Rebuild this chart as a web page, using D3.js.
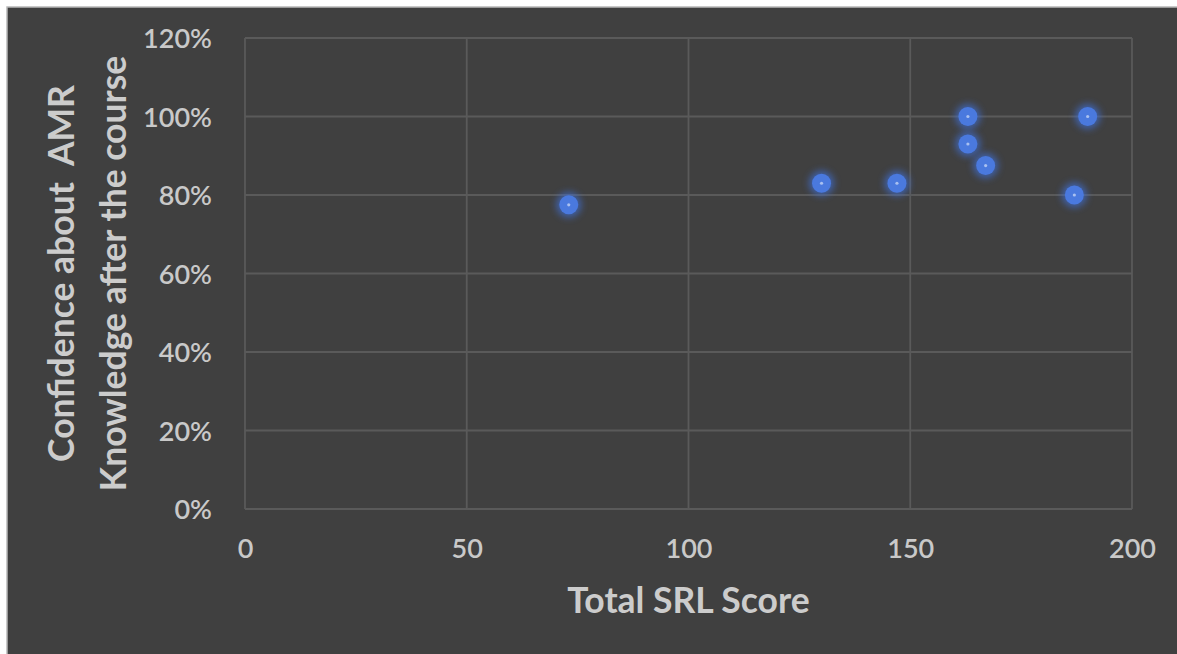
<!DOCTYPE html>
<html>
<head>
<meta charset="utf-8">
<script src="https://cdn.jsdelivr.net/npm/d3@7"></script>
<style>
  html, body { margin: 0; padding: 0; background: #ffffff; }
  svg { display: block; }
</style>
</head>
<body>
<svg id="chart" width="1177" height="654"></svg>
<script>
// Total SRL score vs. confidence about AMR knowledge after the course
const srlScore   = [73, 130, 147, 163, 163, 167, 187, 190];
const confidence = [0.775, 0.83, 0.83, 1.00, 0.93, 0.875, 0.80, 1.00];
const xTicks = [0, 50, 100, 150, 200];
const yTicks = [0, 0.2, 0.4, 0.6, 0.8, 1.0, 1.2];
const xTitle = "Total SRL Score";
const yTitleLines = ["Confidence about  AMR", "Knowledge after the course"];

const W = 1177, H = 654;
const plot = { left: 245, right: 1132, top: 38, bottom: 509 };
const font = "Lato, 'Open Sans', sans-serif";

const svg = d3.select("#chart");

const defs = svg.append("defs");
const glow = defs.append("filter").attr("id", "glow")
  .attr("x", "-100%").attr("y", "-100%").attr("width", "300%").attr("height", "300%");
glow.append("feGaussianBlur").attr("in", "SourceGraphic").attr("stdDeviation", 3.5);

// chart background (frame only visible on the top and left edges)
svg.append("rect").attr("x", 7).attr("y", 7).attr("width", W + 20).attr("height", H + 20)
  .attr("fill", "#404040").attr("stroke", "#b8b8b8").attr("stroke-width", 1.5);

const x = d3.scaleLinear().domain([0, 200]).range([plot.left, plot.right]);
const y = d3.scaleLinear().domain([0, 1.2]).range([plot.bottom, plot.top]);

// gridlines
const grid = svg.append("g").attr("stroke", "#5a5a5a").attr("stroke-width", 1.8);
grid.selectAll("line.h").data(yTicks).join("line")
  .attr("x1", plot.left).attr("x2", plot.right)
  .attr("y1", d => y(d)).attr("y2", d => y(d));
grid.selectAll("line.v").data(xTicks).join("line")
  .attr("y1", plot.top).attr("y2", plot.bottom)
  .attr("x1", d => x(d)).attr("x2", d => x(d));

// axes (labels only)
const xAxis = svg.append("g").attr("transform", `translate(0,${plot.bottom})`)
  .call(d3.axisBottom(x).tickValues(xTicks).tickSize(0).tickPadding(30).tickFormat(d3.format("d")));
const yAxis = svg.append("g").attr("transform", `translate(${plot.left},0)`)
  .call(d3.axisLeft(y).tickValues(yTicks).tickSize(0).tickPadding(33).tickFormat(d3.format(".0%")));
[xAxis, yAxis].forEach(a => {
  a.select(".domain").remove();
  a.selectAll("text").attr("fill", "#c9c9c9").style("font-family", font)
    .style("font-size", "27px").style("font-weight", "600");
});
yAxis.selectAll("text").attr("dy", "0.36em");

// points
const pts = svg.append("g");
const data = srlScore.map((s, i) => ({ s, c: confidence[i] }));
pts.selectAll("circle.halo").data(data).join("circle")
  .attr("cx", d => x(d.s)).attr("cy", d => y(d.c)).attr("r", 12.5)
  .attr("fill", "#3f6fd6").attr("opacity", 0.7).attr("filter", "url(#glow)");
pts.selectAll("circle.dot").data(data).join("circle")
  .attr("cx", d => x(d.s)).attr("cy", d => y(d.c)).attr("r", 9.5)
  .attr("fill", "#4a79de");
pts.selectAll("circle.core").data(data).join("circle")
  .attr("cx", d => x(d.s)).attr("cy", d => y(d.c)).attr("r", 1.6)
  .attr("fill", "#a9c0f0");

// axis titles
svg.append("text")
  .attr("x", (plot.left + plot.right) / 2).attr("y", 613)
  .attr("text-anchor", "middle").attr("fill", "#cccccc")
  .style("font-family", font).style("font-size", "35.5px").style("font-weight", "700")
  .text(xTitle);

const yt = svg.append("text")
  .attr("transform", `translate(0,${(plot.top + plot.bottom) / 2}) rotate(-90)`)
  .attr("text-anchor", "middle").attr("fill", "#cccccc")
  .style("font-family", font).style("font-size", "35.5px").style("font-weight", "700");
yt.selectAll("tspan").data(yTitleLines).join("tspan")
  .attr("x", 0).attr("y", (d, i) => [74, 126][i])
  .style("white-space", "pre")
  .text(d => d);
</script>
</body>
</html>
